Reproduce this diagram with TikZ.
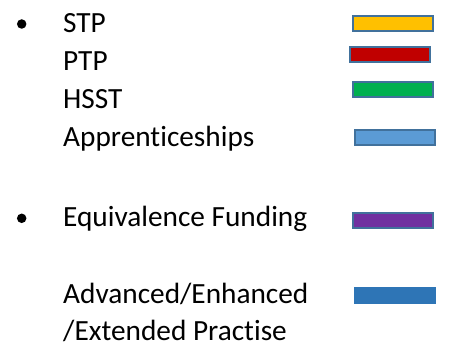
\documentclass[tikz,border=0pt]{standalone}
\usepackage{fontspec}
\setmainfont[Ligatures=NoCommon]{Carlito}
\definecolor{edge}{HTML}{41719C}
\definecolor{cstp}{HTML}{FFC000}
\definecolor{cptp}{HTML}{C00000}
\definecolor{chsst}{HTML}{00B050}
\definecolor{capp}{HTML}{5B9BD5}
\definecolor{ceq}{HTML}{7030A0}
\definecolor{cadv}{HTML}{2E75B6}
\tikzset{
  lbl/.style={anchor=base west, inner sep=0pt, font=\fontsize{29.3}{34}\selectfont},
  swatch/.style={draw=edge, line width=2pt, minimum width=80pt, minimum height=15pt, inner sep=0pt, anchor=north west},
  bul/.style={circle, fill=black, inner sep=0pt, minimum size=9.5pt}
}
\begin{document}
\begin{tikzpicture}[x=1pt,y=-1pt]
\useasboundingbox (0,0) rectangle (450,350);
\node[bul] (b1) at (21.7,24) {};
\node[bul] (b2) at (21.7,218.3) {};
\node[lbl] (t1) at (63,32.3) {STP};
\node[lbl] (t2) at (63,70.7) {PTP};
\node[lbl] (t3) at (63,109) {HSST};
\node[lbl] (t4) at (63,146.7) {Apprenticeships};
\node[lbl] (t5) at (63,226.7) {Equivalence Funding};
\node[lbl] (t6) at (63,303.3) {Advanced/Enhanced};
\node[lbl] (t7) at (63,340.7) {/Extended Practise};
\node[swatch, fill=cstp] (s1) at (351.5,15) {};
\node[swatch, fill=cptp] (s2) at (349,46.5) {};
\node[swatch, fill=chsst] (s3) at (351.5,81) {};
\node[swatch, fill=capp] (s4) at (354,129) {};
\node[swatch, fill=ceq] (s5) at (351.5,211.5) {};
\node[swatch, fill=cadv, draw=cadv] (s6) at (354,287) {};
\end{tikzpicture}
\end{document}
